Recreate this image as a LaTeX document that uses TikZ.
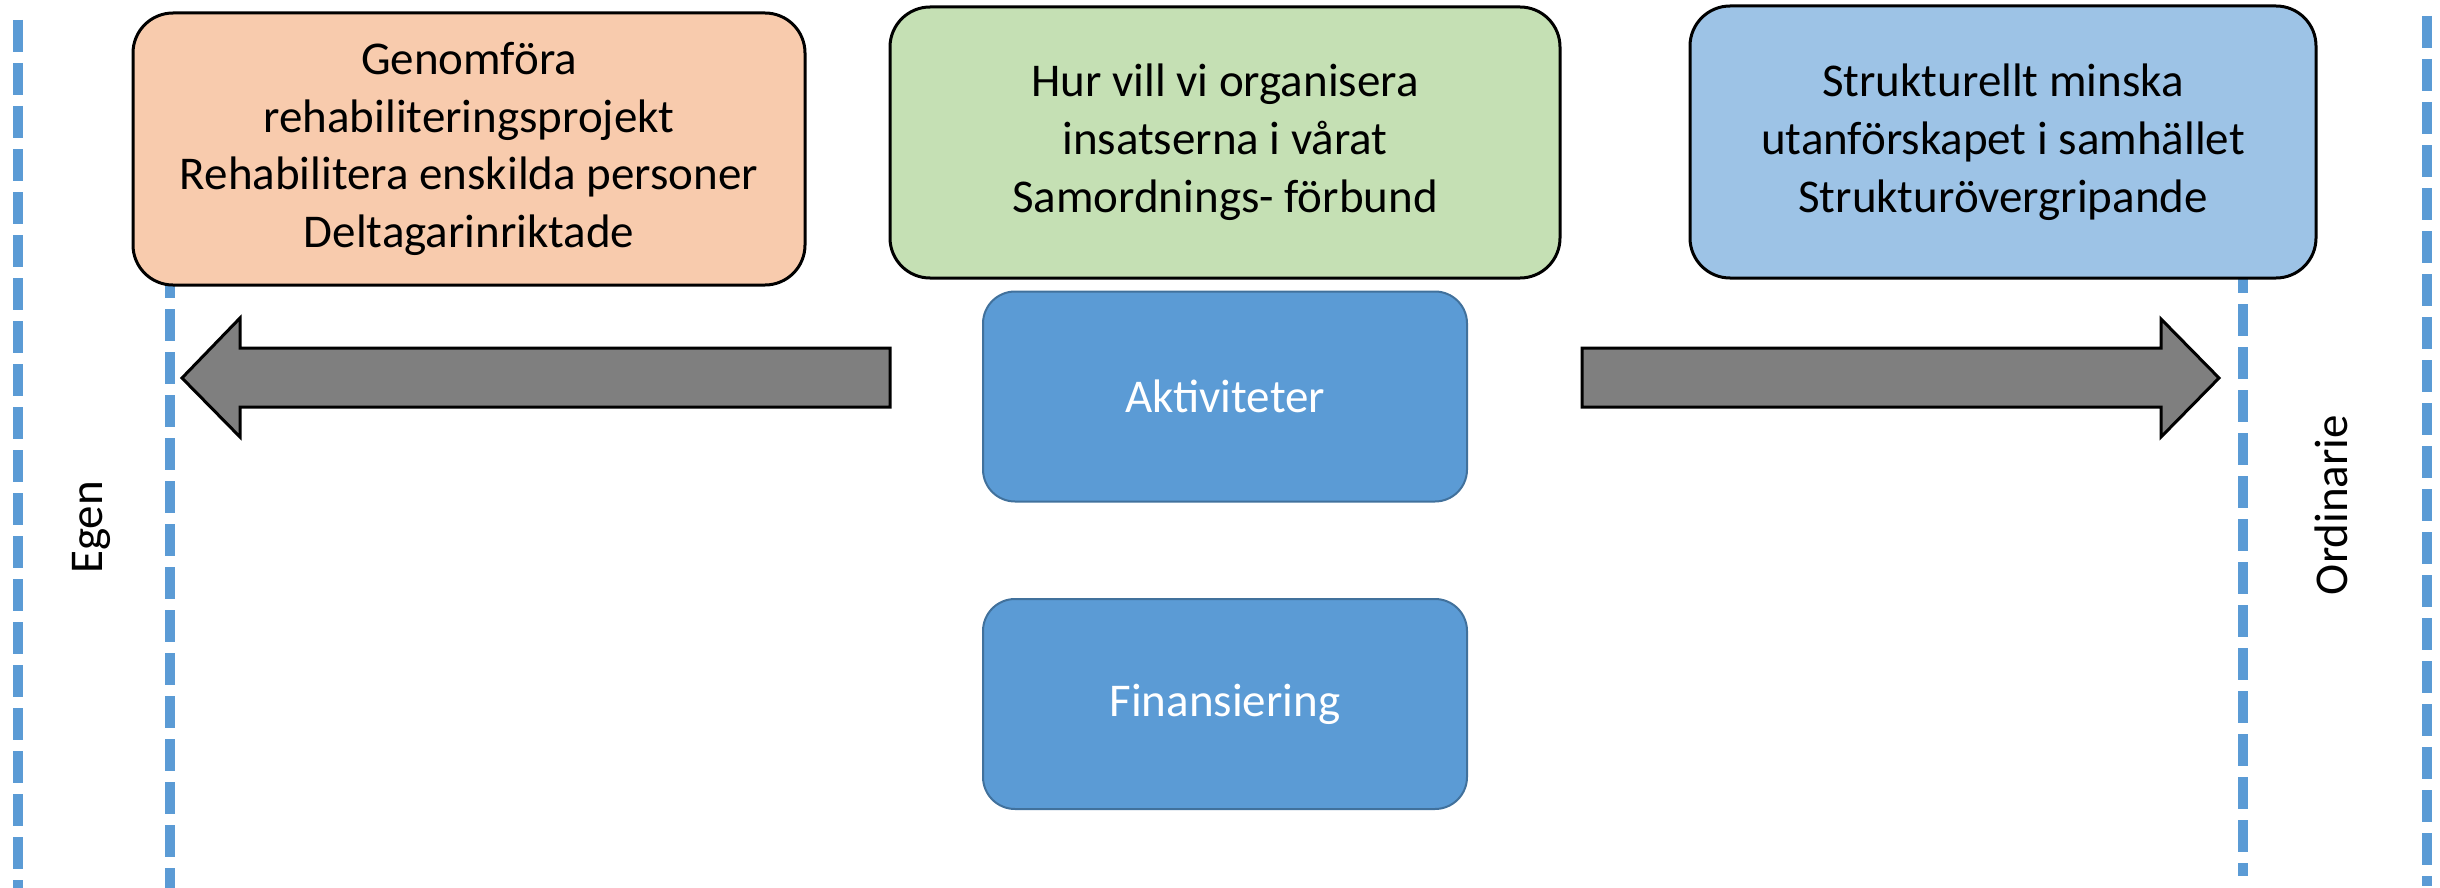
\documentclass[tikz,border=0pt]{standalone}
\usepackage{fontspec}
\setmainfont{Carlito}
\usetikzlibrary{positioning}
\definecolor{peach}{HTML}{F8CBAD}
\definecolor{leaf}{HTML}{C5E0B4}
\definecolor{sky}{HTML}{9DC3E6}
\definecolor{actblue}{HTML}{5B9BD5}
\definecolor{actedge}{HTML}{41719C}
\definecolor{shaftgray}{HTML}{7F7F7F}
\begin{document}
\begin{tikzpicture}[x=0.5pt,y=-0.5pt,
    box/.style={draw=black,line width=1.5pt,rounded corners=20pt,align=center,
      inner sep=0pt,font=\fontsize{23.5}{28.9}\selectfont},
    act/.style={draw=actedge,fill=actblue,line width=1pt,rounded corners=16pt,text=white,
      minimum width=242pt,minimum height=105pt,font=\fontsize{23.5}{28.9}\selectfont},
    divider/.style={draw=actblue,line width=5pt,dash pattern=on 16pt off 5.5pt},
    shaft/.style={draw=black,fill=shaftgray,line width=1.5pt},
    side/.style={rotate=90,anchor=base,inner sep=0pt,font=\fontsize{23.5}{28.9}\selectfont}]
  \useasboundingbox (0,0) rectangle (2440,888);
  % dashed dividers
  \draw[divider] (18,20) -- (18,888);
  \draw[divider] (170,266) -- (170,888);
  \draw[divider] (2243,261) -- (2243,876);
  \draw[divider] (2427,16) -- (2427,886);
  % top boxes
  \node[box,fill=peach,minimum width=336pt,minimum height=136pt] (rehab) at (469,149)
    {Genomföra\\rehabiliteringsprojekt\\Rehabilitera enskilda personer\\Deltagarinriktade};
  \node[box,fill=leaf,minimum width=335pt,minimum height=135.5pt] (org) at (1225,142.5)
    {Hur vill vi organisera\\insatserna i vårat\\Samordnings- förbund};
  \node[box,fill=sky,minimum width=313pt,minimum height=136pt] (struk) at (2003,142)
    {Strukturellt minska\\utanförskapet i samhället\\Strukturövergripande};
  % middle boxes
  \node[act] (akt) at (1225,396.5) {Aktiviteter};
  \node[act] (fin) at (1225,704) {Finansiering};
  % block arrows
  \draw[shaft] (890,348) -- (240,348) -- (240,318) -- (182,378) -- (240,437)
    -- (240,407) -- (890,407) -- cycle;
  \draw[shaft] (1582,348) -- (2161,348) -- (2161,319) -- (2219,378) -- (2161,437)
    -- (2161,407) -- (1582,407) -- cycle;
  % side labels
  \node[side] (egen) at (102,527.5) {Egen};
  \node[side] (ord) at (2347,505) {Ordinarie};
\end{tikzpicture}
\end{document}
